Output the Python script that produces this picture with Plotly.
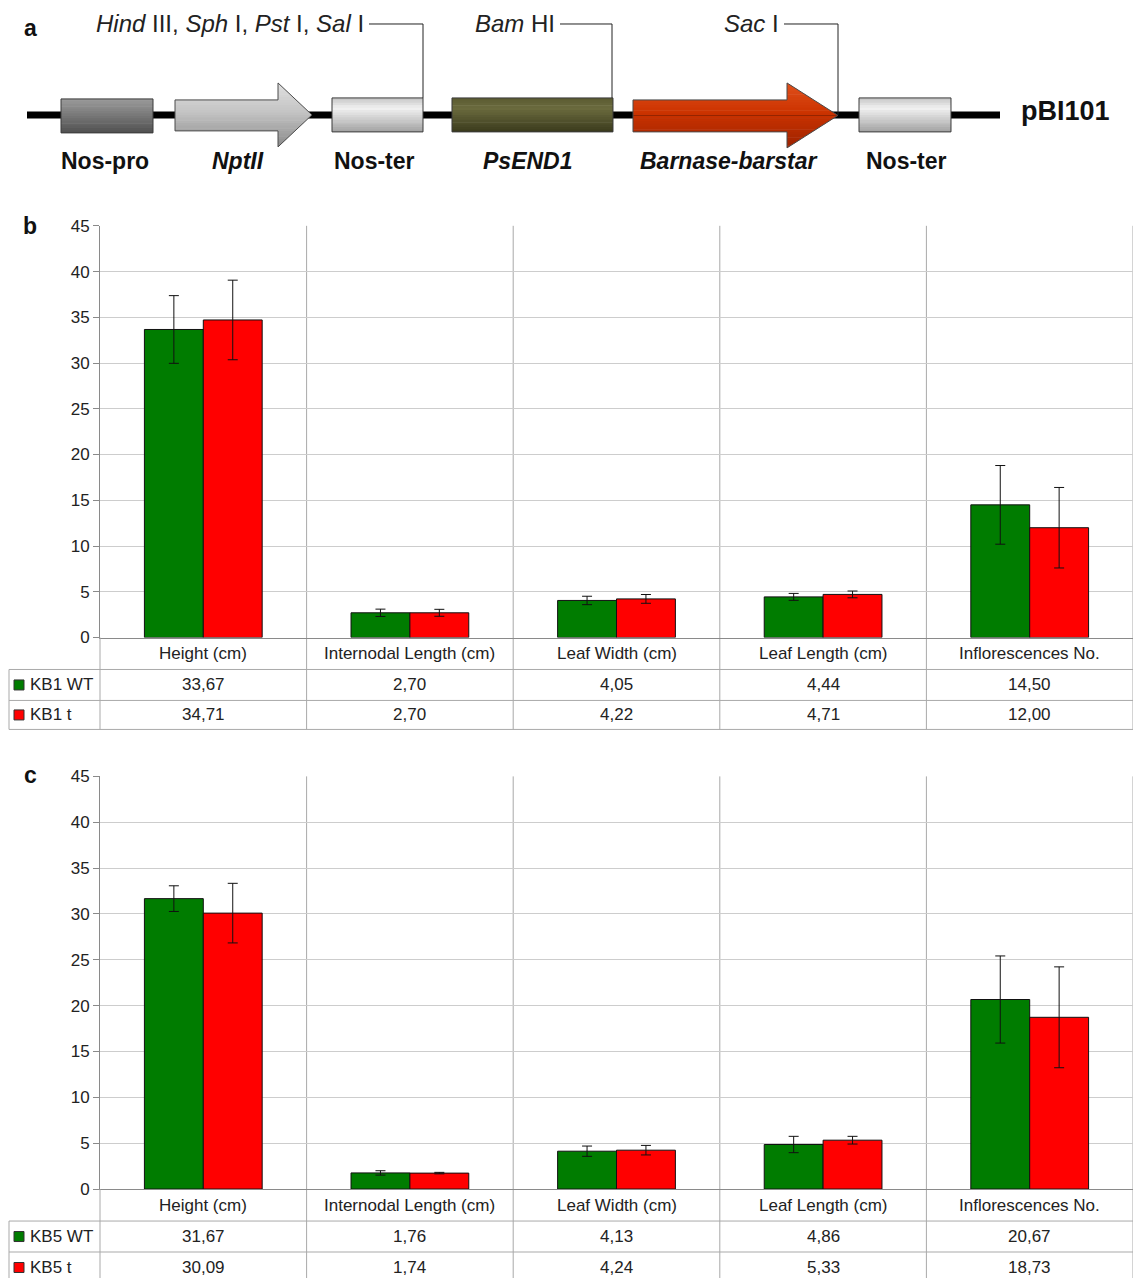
import plotly.graph_objects as go

W, H = 1134, 1278
FONT = "Liberation Sans, Arial, Helvetica, sans-serif"

# ---------------- data ----------------
categories = ["Height (cm)", "Internodal Length (cm)", "Leaf Width (cm)",
              "Leaf Length (cm)", "Inflorescences No."]

kb1_series = ["KB1 WT", "KB1 t"]
kb1_wt = [33.67, 2.70, 4.05, 4.44, 14.50]
kb1_t = [34.71, 2.70, 4.22, 4.71, 12.00]
kb1_wt_err = [3.7, 0.40, 0.46, 0.38, 4.3]
kb1_t_err = [4.35, 0.38, 0.48, 0.37, 4.4]

kb5_series = ["KB5 WT", "KB5 t"]
kb5_wt = [31.67, 1.76, 4.13, 4.86, 20.67]
kb5_t = [30.09, 1.74, 4.24, 5.33, 18.73]
kb5_wt_err = [1.4, 0.24, 0.56, 0.89, 4.75]
kb5_t_err = [3.25, 0.08, 0.52, 0.42, 5.5]

y_tick_values = [0, 5, 10, 15, 20, 25, 30, 35, 40, 45]

construct_labels = ["<b>Nos-pro</b>", "<b><i>NptII</i></b>", "<b>Nos-ter</b>",
                    "<b><i>PsEND1</i></b>", "<b><i>Barnase-barstar</i></b>", "<b>Nos-ter</b>"]
restriction_sites = ["<i>Hind</i> III, <i>Sph</i> I, <i>Pst</i> I, <i>Sal</i> I",
                     "<i>Bam</i> HI", "<i>Sac</i> I"]
plasmid_name = "pBI101"

GREEN = "#007c00"
RED = "#ff0000"
GRID = "#cdcdcd"
TABLE = "#a9a9a9"
AXIS = "#8a8a8a"
TXT = 17

# vertical placement correction so the photographed page lines up with the target
V_OFF = 8.0
V_SCALE = 1278.0 / 1260.0


def px(x):
    return x / W


def py(y):
    return 1 - ((y - V_OFF) * V_SCALE) / H


shapes = []
annotations = []


def hex2rgb(h):
    h = h.lstrip("#")
    return tuple(int(h[i:i + 2], 16) for i in (0, 2, 4))


def grad(stops, t):
    for (p0, c0), (p1, c1) in zip(stops[:-1], stops[1:]):
        if p0 <= t <= p1:
            f = 0 if p1 == p0 else (t - p0) / (p1 - p0)
            a, b = hex2rgb(c0), hex2rgb(c1)
            r = [round(a[i] + (b[i] - a[i]) * f) for i in range(3)]
            return "rgb(%d,%d,%d)" % tuple(r)
    return stops[-1][1]


def line(x0, y0, x1, y1, color, width=1):
    shapes.append(dict(type="line", xref="paper", yref="paper",
                       x0=px(x0), y0=py(y0), x1=px(x1), y1=py(y1),
                       line=dict(color=color, width=width)))


def poly(points, fill, lc=None, lw=0):
    d = "M " + " L ".join(f"{px(x):.6f},{py(y):.6f}" for x, y in points) + " Z"
    shapes.append(dict(type="path", xref="paper", yref="paper", path=d,
                       fillcolor=fill,
                       line=dict(color=lc if lc else fill, width=lw)))


def grad_box(x0, x1, y0, y1, stops, n=14):
    for i in range(n):
        ya = y0 + (y1 - y0) * i / n
        yb = y0 + (y1 - y0) * (i + 1) / n + 0.6
        yb = min(yb, y1)
        poly([(x0, ya), (x1, ya), (x1, yb), (x0, yb)], grad(stops, (i + 0.5) / n))
    poly([(x0, y0), (x1, y0), (x1, y1), (x0, y1)], "rgba(0,0,0,0)", "#3a3a3a", 1)


def grad_arrow(xb0, xh, tip, yb0, yb1, yh0, yh1, stops, n=6):
    ym = (yh0 + yh1) / 2
    hh = (yh1 - yh0) / 2

    def right(y):
        return xh + (tip - xh) * (1 - abs(y - ym) / hh)

    zones = [(yh0, yb0, xh), (yb0, ym, xb0), (ym, yb1, xb0), (yb1, yh1, xh)]
    for za, zb, left in zones:
        for i in range(n):
            ya = za + (zb - za) * i / n
            yb = za + (zb - za) * (i + 1) / n
            ybo = min(yb + 0.6, zb) if not (zb == yh1 and i == n - 1) else yb
            t = ((ya + yb) / 2 - yh0) / (yh1 - yh0)
            poly([(left, ya), (right(ya), ya), (right(ybo), ybo), (left, ybo)],
                 grad(stops, t))
    outline = [(xb0, yb0), (xh, yb0), (xh, yh0), (tip, ym), (xh, yh1), (xh, yb1), (xb0, yb1)]
    poly(outline, "rgba(0,0,0,0)", "#4a4a4a", 1)


# ---------------- panel a: construct ----------------
BB_Y = 114
line(27, BB_Y, 1000, BB_Y, "#000000", 7)

grad_box(61, 153, 98, 132, [(0, "#9a9a9a"), (0.3, "#868686"), (1, "#505050")])
grad_arrow(175, 278, 312, 99, 130, 82, 146, [(0, "#e0e0e0"), (0.45, "#c4c4c4"), (1, "#8a8a8a")])
grad_box(332, 423, 97, 131, [(0, "#c4c4c4"), (0.3, "#f2f2f2"), (1, "#a2a2a2")])
grad_box(452, 613, 97, 131, [(0, "#5a5a32"), (0.3, "#6b6b3e"), (1, "#3a3a1c")])
grad_arrow(633, 787, 838, 99, 131, 82, 147, [(0, "#e0501c"), (0.45, "#cc3300"), (1, "#9c2200")])
grad_box(859, 951, 97, 131, [(0, "#c4c4c4"), (0.3, "#f2f2f2"), (1, "#a2a2a2")])

label_x = [105, 238, 374, 527, 728, 906]
for lab, x in zip(construct_labels, label_x):
    annotations.append(dict(xref="paper", yref="paper", x=px(x), y=py(160),
                            text=lab, showarrow=False, xanchor="center", yanchor="middle",
                            font=dict(family=FONT, size=23, color="#111111")))

site_text_end = [366, 557, 781]
site_cut_x = [423, 612, 838]
site_cut_y = [97, 97, 114]
SITE_Y = 23
for txt, xe, xc, yc in zip(restriction_sites, site_text_end, site_cut_x, site_cut_y):
    annotations.append(dict(xref="paper", yref="paper", x=px(xe), y=py(SITE_Y),
                            text=txt, showarrow=False, xanchor="right", yanchor="middle",
                            font=dict(family=FONT, size=24, color="#222222")))
    line(xe + 3, SITE_Y, xc, SITE_Y, "#222222", 1)
    line(xc, SITE_Y, xc, yc, "#222222", 1)

annotations.append(dict(xref="paper", yref="paper", x=px(1019), y=py(110),
                        text=f"<b>{plasmid_name}</b>", showarrow=False,
                        xanchor="left", yanchor="middle",
                        font=dict(family=FONT, size=27, color="#111111")))

# ---------------- panels b, c ----------------
panels = [
    dict(xa="x", ya="y", series=kb1_series, wt=kb1_wt, t=kb1_t,
         wt_err=kb1_wt_err, t_err=kb1_t_err, top=225, axis=637,
         rows=[669, 700, 729], letter="b", letter_y=225),
    dict(xa="x2", ya="y2", series=kb5_series, wt=kb5_wt, t=kb5_t,
         wt_err=kb5_wt_err, t_err=kb5_t_err, top=776, axis=1189,
         rows=[1221, 1252, 1283], letter="c", letter_y=775),
]

fig = go.Figure()
X_LEFT, X_RIGHT, TABLE_LEFT = 100, 1133, 9

for p in panels:
    fig.add_trace(go.Bar(
        x=categories, y=p["wt"], name=p["series"][0], xaxis=p["xa"], yaxis=p["ya"],
        marker=dict(color=GREEN, line=dict(color="#111111", width=1)),
        error_y=dict(type="data", array=p["wt_err"], color="#111111", thickness=1, width=5),
        showlegend=False, hoverinfo="skip"))
    fig.add_trace(go.Bar(
        x=categories, y=p["t"], name=p["series"][1], xaxis=p["xa"], yaxis=p["ya"],
        marker=dict(color=RED, line=dict(color="#111111", width=1)),
        error_y=dict(type="data", array=p["t_err"], color="#111111", thickness=1, width=5),
        showlegend=False, hoverinfo="skip"))

    r0, r1, r2 = p["rows"]
    for i in range(len(categories)):
        shapes.append(dict(type="line", xref=p["xa"], yref="paper",
                           x0=i + 0.5, x1=i + 0.5, y0=py(p["top"]), y1=py(r2),
                           line=dict(color=TABLE, width=1), layer="below"))
    line(X_LEFT, p["axis"], X_LEFT, r2, TABLE, 1)
    for r in (r0, r1, r2):
        line(TABLE_LEFT, r, X_RIGHT, r, TABLE, 1)
    line(TABLE_LEFT, r0, TABLE_LEFT, r2, TABLE, 1)

    for c in categories:
        annotations.append(dict(xref=p["xa"], yref="paper", x=c,
                                y=py((p["axis"] + r0) / 2), text=c, showarrow=False,
                                xanchor="center", yanchor="middle",
                                font=dict(family=FONT, size=TXT, color="#222222")))
    for vals, name, color, (ya, yb) in [
            (p["wt"], p["series"][0], GREEN, (r0, r1)),
            (p["t"], p["series"][1], RED, (r1, r2))]:
        yc = (ya + yb) / 2
        for c, v in zip(categories, vals):
            annotations.append(dict(xref=p["xa"], yref="paper", x=c, y=py(yc),
                                    text=f"{v:.2f}".replace(".", ","), showarrow=False,
                                    xanchor="center", yanchor="middle",
                                    font=dict(family=FONT, size=TXT, color="#222222")))
        shapes.append(dict(type="rect", xref="paper", yref="paper",
                           x0=px(14), x1=px(24), y0=py(yc - 5), y1=py(yc + 5),
                           fillcolor=color, line=dict(color="#333333", width=1)))
        annotations.append(dict(xref="paper", yref="paper", x=px(28), y=py(yc),
                                text=name, showarrow=False, xanchor="left", yanchor="middle",
                                font=dict(family=FONT, size=TXT, color="#222222")))
    annotations.append(dict(xref="paper", yref="paper", x=px(30), y=py(p["letter_y"]),
                            text=f"<b>{p['letter']}</b>", showarrow=False,
                            xanchor="center", yanchor="middle",
                            font=dict(family=FONT, size=23, color="#111111")))

annotations.append(dict(xref="paper", yref="paper", x=px(30), y=py(27),
                        text="<b>a</b>", showarrow=False, xanchor="center", yanchor="middle",
                        font=dict(family=FONT, size=23, color="#111111")))


def yaxis_cfg(p, anchor):
    return dict(domain=[py(p["axis"]), py(p["top"])], range=[0, 45],
                tickvals=y_tick_values, showgrid=True, gridcolor=GRID, gridwidth=1,
                showline=True, linecolor=AXIS, linewidth=1, ticks="outside",
                ticklen=6, tickcolor=AXIS, zeroline=False, anchor=anchor,
                tickfont=dict(family=FONT, size=17, color="#222222"), fixedrange=True)


def xaxis_cfg(anchor):
    return dict(domain=[px(X_LEFT), px(X_RIGHT)], range=[-0.5, len(categories) - 0.5],
                showticklabels=False, ticks="", showgrid=False, showline=True,
                linecolor=AXIS, linewidth=1, zeroline=False, anchor=anchor,
                type="category", fixedrange=True)


fig.update_layout(
    width=W, height=H, autosize=False,
    margin=dict(l=0, r=0, t=0, b=0, pad=0),
    paper_bgcolor="white", plot_bgcolor="white",
    barmode="group", bargap=0.43, bargroupgap=0.0,
    xaxis=xaxis_cfg("y"), yaxis=yaxis_cfg(panels[0], "x"),
    xaxis2=xaxis_cfg("y2"), yaxis2=yaxis_cfg(panels[1], "x2"),
    shapes=shapes, annotations=annotations,
    font=dict(family=FONT),
)

fig.write_html(
    "out.html",
    config={"displayModeBar": False, "staticPlot": True},
    post_script=(
        "document.documentElement.style.margin='0';"
        "document.documentElement.style.overflow='hidden';"
        "document.body.style.margin='0';"
        "document.body.style.overflow='hidden';"
        "var gd=document.getElementById('{plot_id}');"
        "gd.style.position='fixed';gd.style.left='0px';gd.style.top='0px';"
    ),
)
